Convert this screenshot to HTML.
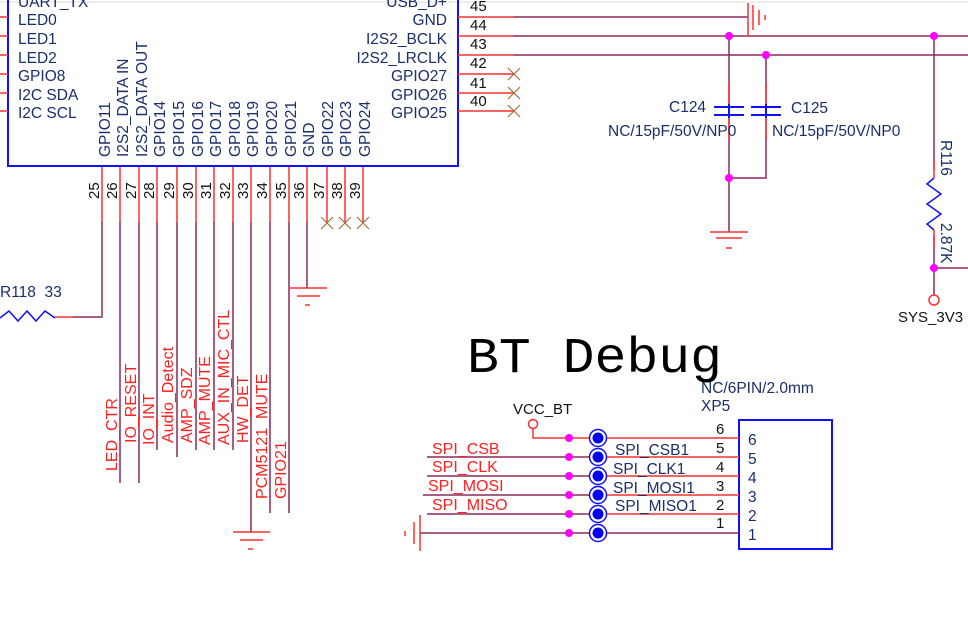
<!DOCTYPE html>
<html><head><meta charset="utf-8"><style>
html,body{margin:0;padding:0;background:#fff;}
svg{display:block;}
text{font-family:"Liberation Sans",sans-serif;}
.b{fill:#1a2f6a;font-size:15.5px;}
.r{fill:#ff2020;font-size:16px;}
.k{fill:#111;font-size:15px;}
</style></head><body>
<svg width="968" height="620" viewBox="0 0 968 620" xmlns="http://www.w3.org/2000/svg">
<line x1="0" y1="2" x2="968" y2="2" stroke="#ddd" stroke-width="1"/>
<path d="M8,0 V166 H458 V0" fill="none" stroke="#1010ff" stroke-width="2"/>
<g stroke="#ff3030" stroke-width="1.5">
<line x1="0" y1="17" x2="8" y2="17"/><line x1="0" y1="36" x2="8" y2="36"/><line x1="0" y1="55" x2="8" y2="55"/>
<line x1="0" y1="74" x2="8" y2="74"/><line x1="0" y1="93" x2="8" y2="93"/><line x1="0" y1="111" x2="8" y2="111"/>
</g>
<text x="18" y="7" class="b">UART_TX</text>
<text x="18" y="25" class="b">LED0</text><text x="18" y="44" class="b">LED1</text><text x="18" y="63" class="b">LED2</text>
<text x="18" y="81" class="b">GPIO8</text><text x="18" y="100" class="b">I2C SDA</text><text x="18" y="118" class="b">I2C SCL</text>
<g text-anchor="end">
<text x="447" y="7" class="b">USB_D+</text>
<text x="447" y="25" class="b">GND</text><text x="447" y="44" class="b">I2S2_BCLK</text><text x="447" y="63" class="b">I2S2_LRCLK</text>
<text x="447" y="81" class="b">GPIO27</text><text x="447" y="100" class="b">GPIO26</text><text x="447" y="118" class="b">GPIO25</text>
</g>
<g stroke-width="1.5">
<line x1="458" y1="17" x2="513" y2="17" stroke="#ff3030"/><line x1="513" y1="17" x2="748" y2="17" stroke="#8b2a5a"/>
<line x1="458" y1="36" x2="513" y2="36" stroke="#ff3030"/><line x1="513" y1="36" x2="968" y2="36" stroke="#8b2a5a"/>
<line x1="458" y1="55" x2="513" y2="55" stroke="#ff3030"/><line x1="513" y1="55" x2="968" y2="55" stroke="#8b2a5a"/>
<line x1="458" y1="74" x2="513" y2="74" stroke="#ff3030"/>
<line x1="458" y1="93" x2="513" y2="93" stroke="#ff3030"/>
<line x1="458" y1="111" x2="513" y2="111" stroke="#ff3030"/>
</g>
<g stroke="#a0703a" stroke-width="1.2">
<path d="M508,68 l12,12 M520,68 l-12,12"/><path d="M508,87 l12,12 M520,87 l-12,12"/><path d="M508,105 l12,12 M520,105 l-12,12"/>
</g>
<text x="470" y="11" class="k">45</text><text x="470" y="30" class="k">44</text><text x="470" y="49" class="k">43</text>
<text x="470" y="68" class="k">42</text><text x="470" y="88" class="k">41</text><text x="470" y="106" class="k">40</text>
<g stroke="#ff3030" stroke-width="1.5">
<line x1="748" y1="3" x2="748" y2="36"/><line x1="753" y1="5" x2="753" y2="30"/><line x1="759" y1="10" x2="759" y2="25"/><line x1="765" y1="15" x2="765" y2="20"/>
</g>
<g stroke="#8b2a5a" stroke-width="1.5" fill="none">
<line x1="729" y1="36" x2="729" y2="232"/>
<path d="M766,55 V178 H729"/>
<line x1="934" y1="36" x2="934" y2="170"/>
<line x1="934" y1="235" x2="934" y2="295"/>
<line x1="934" y1="268" x2="968" y2="268"/>
</g>
<g stroke="#ff3030" stroke-width="1.5">
<line x1="729" y1="82" x2="729" y2="104"/><line x1="766" y1="82" x2="766" y2="104"/>
<line x1="729" y1="117" x2="729" y2="140"/><line x1="766" y1="117" x2="766" y2="140"/>
<line x1="934" y1="160" x2="934" y2="178"/><line x1="934" y1="230" x2="934" y2="248"/>
<line x1="710" y1="232" x2="748" y2="232"/><line x1="716" y1="238" x2="742" y2="238"/><line x1="726" y1="248" x2="732" y2="248"/>
</g>
<g stroke="#1010ff" stroke-width="2">
<line x1="714" y1="107" x2="744" y2="107"/><line x1="714" y1="115" x2="744" y2="115"/>
<line x1="751" y1="107" x2="781" y2="107"/><line x1="751" y1="115" x2="781" y2="115"/>
<line x1="729" y1="104" x2="729" y2="118"/><line x1="766" y1="104" x2="766" y2="118"/>
</g>
<polyline points="934,178 927,184 941,194 927,204 941,214 927,224 934,230" fill="none" stroke="#1010ff" stroke-width="1.5"/>
<circle cx="934" cy="300" r="5" fill="#fff" stroke="#ff3030" stroke-width="1.5"/>
<text x="898" y="322" class="k">SYS_3V3</text>
<g fill="#ff00ff"><circle cx="729" cy="36" r="4"/><circle cx="934" cy="36" r="4"/><circle cx="766" cy="55" r="4"/><circle cx="729" cy="178" r="4"/><circle cx="934" cy="268" r="4"/></g>
<text x="669" y="112" class="b">C124</text><text x="791" y="113" class="b">C125</text>
<text x="608" y="136" class="b">NC/15pF/50V/NP0</text><text x="772" y="136" class="b">NC/15pF/50V/NP0</text>
<text transform="translate(941,140) rotate(90)" class="b">R116</text>
<text transform="translate(941,223) rotate(90)" class="b">2.87K</text>
<g stroke-width="1.5">
<g stroke="#ff3030">
<line x1="102" y1="167" x2="102" y2="222"/><line x1="120" y1="167" x2="120" y2="222"/><line x1="139" y1="167" x2="139" y2="222"/>
<line x1="157" y1="167" x2="157" y2="222"/><line x1="177" y1="167" x2="177" y2="222"/><line x1="196" y1="167" x2="196" y2="222"/>
<line x1="214" y1="167" x2="214" y2="222"/><line x1="233" y1="167" x2="233" y2="222"/><line x1="251" y1="167" x2="251" y2="222"/>
<line x1="270" y1="167" x2="270" y2="222"/><line x1="289" y1="167" x2="289" y2="222"/><line x1="307" y1="167" x2="307" y2="222"/>
<line x1="327" y1="167" x2="327" y2="222"/><line x1="345" y1="167" x2="345" y2="222"/><line x1="363" y1="167" x2="363" y2="222"/>
</g>
<g stroke="#8b2a5a" fill="none">
<path d="M102,222 V317 H73"/><line x1="120" y1="222" x2="120" y2="483"/><line x1="139" y1="222" x2="139" y2="483"/>
<line x1="157" y1="222" x2="157" y2="450"/><line x1="177" y1="222" x2="177" y2="457"/><line x1="196" y1="222" x2="196" y2="450"/>
<line x1="214" y1="222" x2="214" y2="450"/><line x1="233" y1="222" x2="233" y2="450"/><line x1="251" y1="222" x2="251" y2="532"/>
<line x1="270" y1="222" x2="270" y2="513"/><line x1="289" y1="222" x2="289" y2="513"/><line x1="307" y1="222" x2="307" y2="288"/>
</g>
<line x1="55" y1="317" x2="73" y2="317" stroke="#ff3030"/>
</g>
<polyline points="0,318 9,311 18,321 27,311 36,321 45,311 55,318" fill="none" stroke="#1010ff" stroke-width="1.5"/>
<text x="0" y="297" class="b" xml:space="preserve">R118  33</text>
<g stroke="#ff3030" stroke-width="1.5">
<line x1="290" y1="288" x2="327" y2="288"/><line x1="297" y1="296" x2="320" y2="296"/><line x1="305" y1="305" x2="310" y2="305"/>
<line x1="233" y1="532" x2="270" y2="532"/><line x1="240" y1="540" x2="263" y2="540"/><line x1="248" y1="549" x2="253" y2="549"/>
</g>
<g stroke="#a0703a" stroke-width="1.2">
<path d="M321,217 l12,12 M333,217 l-12,12"/><path d="M339,217 l12,12 M351,217 l-12,12"/><path d="M357,217 l12,12 M369,217 l-12,12"/>
</g>
<text transform="translate(99,199) rotate(-90)" class="k">25</text><text transform="translate(117,199) rotate(-90)" class="k">26</text>
<text transform="translate(136,199) rotate(-90)" class="k">27</text><text transform="translate(154,199) rotate(-90)" class="k">28</text>
<text transform="translate(174,199) rotate(-90)" class="k">29</text><text transform="translate(193,199) rotate(-90)" class="k">30</text>
<text transform="translate(211,199) rotate(-90)" class="k">31</text><text transform="translate(230,199) rotate(-90)" class="k">32</text>
<text transform="translate(248,199) rotate(-90)" class="k">33</text><text transform="translate(267,199) rotate(-90)" class="k">34</text>
<text transform="translate(286,199) rotate(-90)" class="k">35</text><text transform="translate(304,199) rotate(-90)" class="k">36</text>
<text transform="translate(324,199) rotate(-90)" class="k">37</text><text transform="translate(342,199) rotate(-90)" class="k">38</text>
<text transform="translate(360,199) rotate(-90)" class="k">39</text>
<text transform="translate(110,157) rotate(-90)" class="b">GPIO11</text>
<text transform="translate(128,157) rotate(-90)" class="b">I2S2_DATA IN</text>
<text transform="translate(147,157) rotate(-90)" class="b">I2S2_DATA OUT</text>
<text transform="translate(165,157) rotate(-90)" class="b">GPIO14</text>
<text transform="translate(184,157) rotate(-90)" class="b">GPIO15</text>
<text transform="translate(203,157) rotate(-90)" class="b">GPIO16</text>
<text transform="translate(221,157) rotate(-90)" class="b">GPIO17</text>
<text transform="translate(240,157) rotate(-90)" class="b">GPIO18</text>
<text transform="translate(258,157) rotate(-90)" class="b">GPIO19</text>
<text transform="translate(277,157) rotate(-90)" class="b">GPIO20</text>
<text transform="translate(296,157) rotate(-90)" class="b">GPIO21</text>
<text transform="translate(314,157) rotate(-90)" class="b">GND</text>
<text transform="translate(333,157) rotate(-90)" class="b">GPIO22</text>
<text transform="translate(351,157) rotate(-90)" class="b">GPIO23</text>
<text transform="translate(370,157) rotate(-90)" class="b">GPIO24</text>
<text transform="translate(117,471) rotate(-90)" class="r">LED_CTR</text>
<text transform="translate(136,443) rotate(-90)" class="r">IO_RESET</text>
<text transform="translate(154,445) rotate(-90)" class="r">IO_INT</text>
<text transform="translate(173,443) rotate(-90)" class="r">Audio_Detect</text>
<text transform="translate(192,443) rotate(-90)" class="r">AMP_SDZ</text>
<text transform="translate(210,445) rotate(-90)" class="r">AMP_MUTE</text>
<text transform="translate(229,445) rotate(-90)" class="r">AUX_IN_MIC_CTL</text>
<text transform="translate(248,443) rotate(-90)" class="r">HW_DET</text>
<text transform="translate(267,499) rotate(-90)" class="r">PCM5121_MUTE</text>
<text transform="translate(286,499) rotate(-90)" class="r">GPIO21</text>
<text x="467" y="372" textLength="255" lengthAdjust="spacingAndGlyphs" style="font-family:'Liberation Mono',monospace;font-size:50px;fill:#000">BT Debug</text>
<text x="701" y="393" class="b">NC/6PIN/2.0mm</text>
<text x="701" y="411" class="b">XP5</text>
<text x="513" y="414" class="k">VCC_BT</text>
<rect x="739" y="420" width="93" height="129" fill="none" stroke="#1010ff" stroke-width="2"/>
<circle cx="533" cy="424" r="4.5" fill="#fff" stroke="#ff3030" stroke-width="1.5"/>
<g stroke-width="1.5" fill="none">
<path d="M533,429 V438 H598" stroke="#ff3030"/>
<line x1="427" y1="457" x2="598" y2="457" stroke="#8b2a5a"/>
<line x1="427" y1="476" x2="598" y2="476" stroke="#8b2a5a"/>
<line x1="423" y1="495" x2="598" y2="495" stroke="#8b2a5a"/>
<line x1="427" y1="514" x2="598" y2="514" stroke="#8b2a5a"/>
<line x1="420" y1="533" x2="598" y2="533" stroke="#8b2a5a"/>
<line x1="598" y1="438" x2="739" y2="438" stroke="#ff3030"/>
<line x1="598" y1="457" x2="739" y2="457" stroke="#ff3030"/>
<line x1="598" y1="476" x2="739" y2="476" stroke="#ff3030"/>
<line x1="598" y1="495" x2="739" y2="495" stroke="#ff3030"/>
<line x1="598" y1="514" x2="739" y2="514" stroke="#ff3030"/>
<line x1="598" y1="533" x2="739" y2="533" stroke="#8b2a5a"/>
<line x1="420" y1="515" x2="420" y2="551" stroke="#ff3030"/>
<line x1="414" y1="522" x2="414" y2="544" stroke="#ff3030"/>
<line x1="405" y1="531" x2="405" y2="536" stroke="#ff3030"/>
</g>
<g fill="#ff00ff"><circle cx="569" cy="438" r="4"/><circle cx="569" cy="457" r="4"/><circle cx="569" cy="476" r="4"/><circle cx="569" cy="495" r="4"/><circle cx="569" cy="514" r="4"/><circle cx="569" cy="533" r="4"/></g>
<g stroke="#1010ff" stroke-width="1.5" fill="#fff">
<circle cx="598" cy="438" r="8.5"/><circle cx="598" cy="457" r="8.5"/><circle cx="598" cy="476" r="8.5"/><circle cx="598" cy="495" r="8.5"/><circle cx="598" cy="514" r="8.5"/><circle cx="598" cy="533" r="8.5"/>
</g>
<g fill="#0000ee"><circle cx="598" cy="438" r="5.5"/><circle cx="598" cy="457" r="5.5"/><circle cx="598" cy="476" r="5.5"/><circle cx="598" cy="495" r="5.5"/><circle cx="598" cy="514" r="5.5"/><circle cx="598" cy="533" r="5.5"/></g>
<text x="432" y="454" class="r">SPI_CSB</text><text x="432" y="472" class="r">SPI_CLK</text>
<text x="428" y="491" class="r">SPI_MOSI</text><text x="432" y="510" class="r">SPI_MISO</text>
<text x="615" y="455" class="b">SPI_CSB1</text><text x="613" y="474" class="b">SPI_CLK1</text>
<text x="613" y="493" class="b">SPI_MOSI1</text><text x="615" y="511" class="b">SPI_MISO1</text>
<text x="716" y="434" class="k">6</text><text x="716" y="453" class="k">5</text><text x="716" y="472" class="k">4</text><text x="716" y="491" class="k">3</text><text x="716" y="510" class="k">2</text><text x="716" y="528" class="k">1</text>
<text x="748" y="445" class="b">6</text><text x="748" y="464" class="b">5</text><text x="748" y="483" class="b">4</text><text x="748" y="502" class="b">3</text><text x="748" y="521" class="b">2</text><text x="748" y="540" class="b">1</text>
</svg>
</body></html>
